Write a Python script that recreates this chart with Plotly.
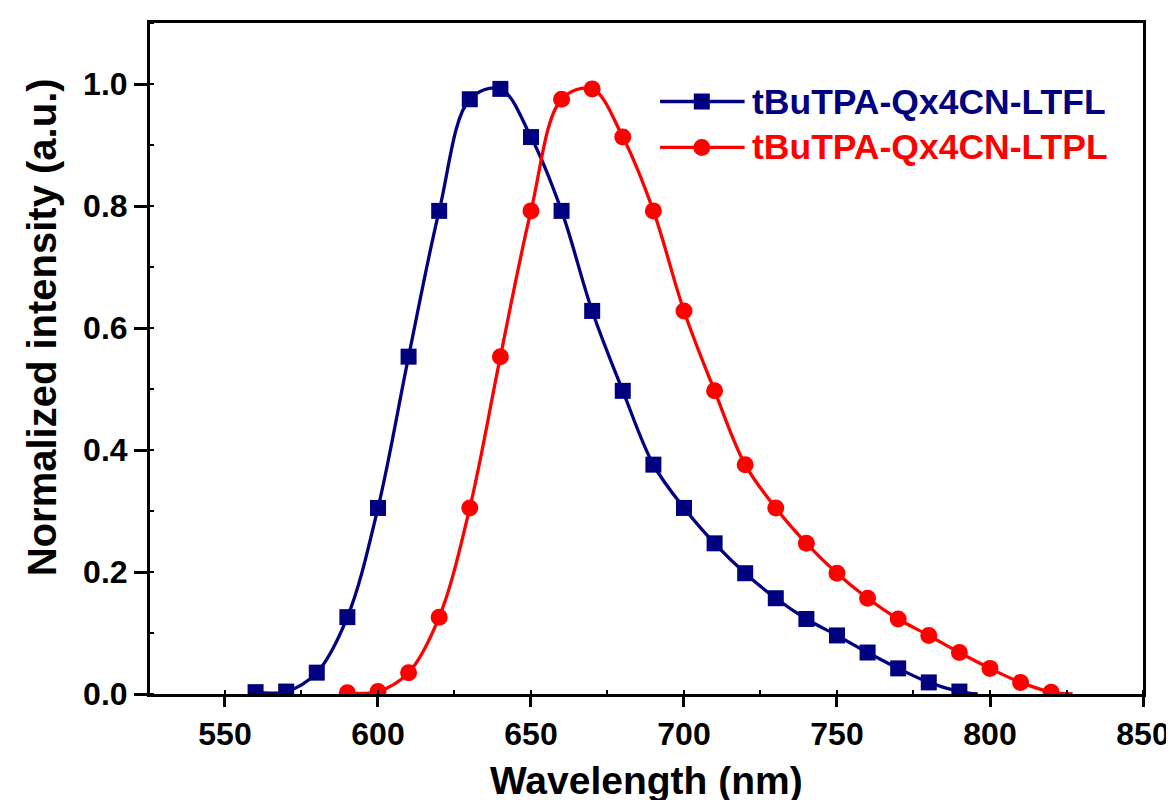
import plotly.graph_objects as go

# ---- data ----
wl_fl = [560, 570, 580, 590, 600, 610, 620, 630, 640, 650, 660, 670, 680, 690,
         700, 710, 720, 730, 740, 750, 760, 770, 780, 790]
fl = [0.003, 0.004, 0.035, 0.126, 0.305, 0.553, 0.792, 0.975, 0.992, 0.913, 0.792,
      0.628, 0.497, 0.376, 0.305, 0.247, 0.198, 0.157, 0.123, 0.096, 0.068, 0.042,
      0.019, 0.004]
fl_tail_x = [796]
fl_tail_y = [0.0]

wl_pl = [590, 600, 610, 620, 630, 640, 650, 660, 670, 680, 690, 700, 710, 720,
         730, 740, 750, 760, 770, 780, 790, 800, 810, 820]
pl = [0.002, 0.004, 0.035, 0.126, 0.305, 0.553, 0.792, 0.975, 0.992, 0.913, 0.792,
      0.628, 0.497, 0.376, 0.305, 0.247, 0.198, 0.157, 0.123, 0.096, 0.068, 0.042,
      0.019, 0.003]
pl_tail_x = [827]
pl_tail_y = [0.0]

names = ["tBuTPA-Qx4CN-LTFL", "tBuTPA-Qx4CN-LTPL"]
colors = ["#000080", "#FF0000"]
symbols = ["square", "circle"]
sizes = [16, 17]

x_ticks = [550, 600, 650, 700, 750, 800, 850]
y_ticks = [0.0, 0.2, 0.4, 0.6, 0.8, 1.0]
x_title = "Wavelength (nm)"
y_title = "Normalized intensity (a.u.)"

FONT = "Liberation Sans, Arial, sans-serif"

fig = go.Figure()

series = [(wl_fl, fl, fl_tail_x, fl_tail_y), (wl_pl, pl, pl_tail_x, pl_tail_y)]
for i, (xs, ys, tx, ty) in enumerate(series):
    fig.add_trace(go.Scatter(
        x=xs + tx, y=ys + ty, mode="lines",
        line=dict(color=colors[i], width=3.3, shape="spline", smoothing=1.0),
        showlegend=False, hoverinfo="skip"))
    fig.add_trace(go.Scatter(
        x=xs, y=ys, mode="markers",
        marker=dict(symbol=symbols[i], color=colors[i], size=sizes[i],
                    line=dict(width=0)),
        name=names[i], showlegend=False))

# ---- custom legend (long sample line with marker in the middle) ----
leg_rows = [0.883, 0.8146]
leg_x0, leg_x1, leg_xm, leg_tx = 0.5137, 0.5988, 0.5557, 0.6038
for i in range(2):
    fig.add_trace(go.Scatter(
        x=[leg_x0, leg_x1], y=[leg_rows[i], leg_rows[i]], mode="lines",
        line=dict(color=colors[i], width=3.3), xaxis="x2", yaxis="y2",
        showlegend=False, hoverinfo="skip"))
    fig.add_trace(go.Scatter(
        x=[leg_xm], y=[leg_rows[i]], mode="markers",
        marker=dict(symbol=symbols[i], color=colors[i], size=sizes[i]),
        xaxis="x2", yaxis="y2", showlegend=False, hoverinfo="skip"))
    fig.add_annotation(
        x=leg_tx, y=leg_rows[i], xref="paper", yref="paper",
        xanchor="left", yanchor="middle", showarrow=False, text=names[i],
        font=dict(family=FONT, size=35.5, color=colors[i], weight="bold"))

axis_common = dict(
    showline=True, linecolor="black", linewidth=3, mirror=True,
    showgrid=False, zeroline=False, ticks="outside", tickwidth=3,
    tickcolor="black",
    tickfont=dict(family=FONT, size=32, color="black", weight="bold"),
)

fig.update_layout(
    width=1174, height=800,
    margin=dict(l=142, r=33, t=14, b=114),
    paper_bgcolor="white", plot_bgcolor="white",
    showlegend=False,
    xaxis=dict(range=[525.5, 850], tickvals=x_ticks, ticklen=10,
               minor=dict(ticks="inside", ticklen=4, tickwidth=2, dtick=25,
                          tickcolor="black"),
               **axis_common),
    yaxis=dict(range=[0, 1.1], tickvals=y_ticks, tickformat=".1f", ticklen=13,
               minor=dict(ticks="inside", ticklen=4, tickwidth=2, dtick=0.1,
                          tickcolor="black"),
               **axis_common),
    xaxis2=dict(overlaying="x", range=[0, 1], visible=False, anchor="y2"),
    yaxis2=dict(overlaying="y", range=[0, 1], visible=False, anchor="x2"),
)

fig.add_annotation(
    x=0.5, y=-0.129, xref="paper", yref="paper", xanchor="center",
    yanchor="middle", showarrow=False, text=x_title,
    font=dict(family=FONT, size=39, color="black", weight="bold"))
fig.add_annotation(
    x=-0.1088, y=0.5465, xref="paper", yref="paper", xanchor="center",
    yanchor="middle", showarrow=False, text=y_title, textangle=-90,
    font=dict(family=FONT, size=40, color="black", weight="bold"))

fig.write_html("out.html")
